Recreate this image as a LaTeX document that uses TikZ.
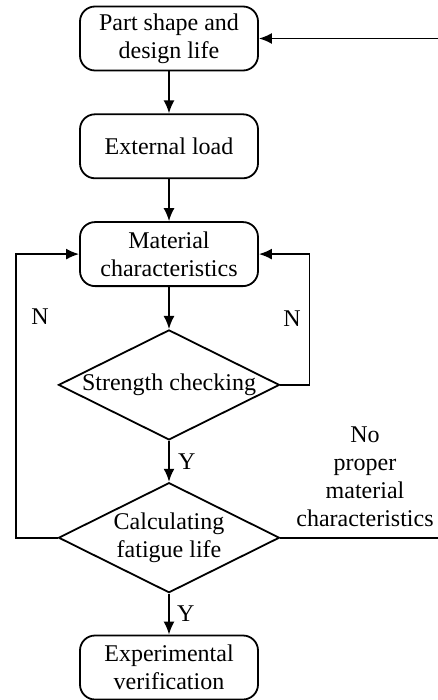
\documentclass[tikz,border=0pt]{standalone}
\usepackage{fontspec}
\setmainfont{Liberation Serif}
\usepackage{tikz}
\usetikzlibrary{arrows.meta,positioning,shapes.geometric}

\begin{document}
\begin{tikzpicture}[x=1pt,y=1pt,
  fbox/.style={draw,rounded corners=15pt,align=center,minimum height=64pt,
               minimum width=178pt,line width=1.8pt,inner sep=2pt},
  fdec/.style={draw,diamond,aspect=2,align=center,inner sep=0pt,
               minimum width=221pt,minimum height=110pt,line width=1.8pt},
  farr/.style={-{Latex[length=13pt,width=11pt]},line width=1.8pt},
  font=\fontsize{24}{28}\selectfont
]
\useasboundingbox (0,0) rectangle (438,-700);
\node[fbox] (part) at (169,-38.5) {Part shape and\\design life};
\node[fbox,below=42pt of part] (load) {External load};
\node[fbox,below=42pt of load] (matl) {Material\\characteristics};
\node[fdec,below=42pt of matl] (check) {Strength checking};
\node[fdec,below=41pt of check] (fatigue) {Calculating\\fatigue life};
\node[fbox,below=41pt of fatigue] (verif) {Experimental\\verification};
\draw[farr] (part)--(load);
\draw[farr] (load)--(matl);
\draw[farr] (matl)--(check);
\draw[farr] (check) -- node[right=5pt] {Y} (fatigue);
\draw[farr] (fatigue) -- node[right=4pt] {Y} (verif);
\draw[farr] (check.east) -- ++(29,0) |- (matl.east);
\draw[farr] (fatigue.west) -- ++(-42,0) |- (matl.west);
\draw[farr] (fatigue.east) -- ++(165,0) |- (part.east);
\node (nl) at (40,-317) {N};
\node (nr) at (292,-319) {N};
\node[align=center] (nomat) at (365,-477) {No\\proper\\material\\characteristics};
\end{tikzpicture}
\end{document}
